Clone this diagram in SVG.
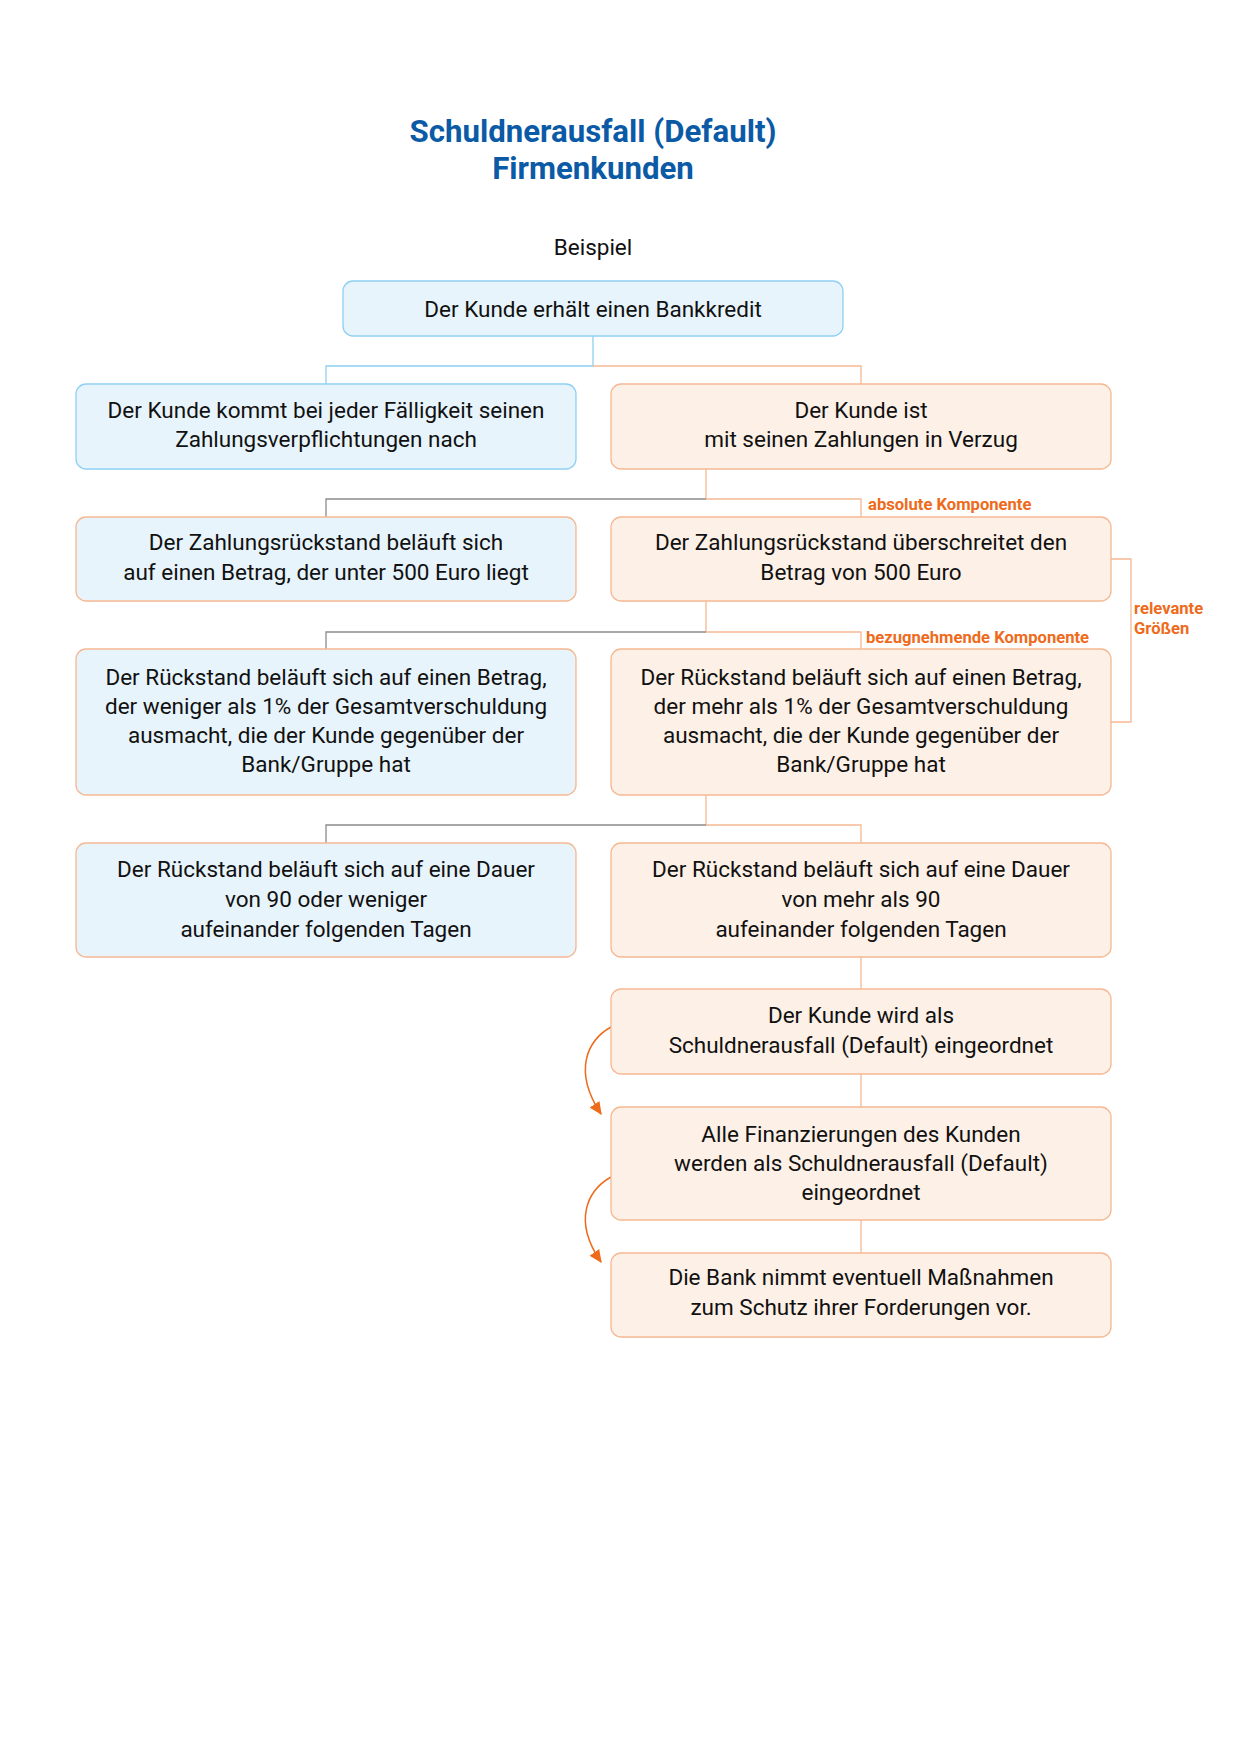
<svg xmlns="http://www.w3.org/2000/svg" width="1240" height="1754" viewBox="0 0 1240 1754">
<defs>
<style>
.bg{fill:#ffffff}
.title{font-family:Roboto,"Liberation Sans",sans-serif;font-weight:700;font-size:31.2px;fill:#0b5aa6;text-anchor:middle}
.sub{font-family:Roboto,"Liberation Sans",sans-serif;font-size:22.5px;fill:#111;text-anchor:middle}
.t{font-family:Roboto,"Liberation Sans",sans-serif;font-size:22.5px;fill:#111;text-anchor:middle}
.lbl{font-family:Roboto,"Liberation Sans",sans-serif;font-weight:700;font-size:16.6px;fill:#ee6b1c}
.blue{fill:#e8f4fc;stroke:#8ecff2;stroke-width:1.3}
.mix{fill:#e8f4fc;stroke:#f5b892;stroke-width:1.3}
.orange{fill:#fdf0e6;stroke:#f5b892;stroke-width:1.3}
.cb{fill:none;stroke:#8ecff2;stroke-width:1.3}
.co{fill:none;stroke:#f5b892;stroke-width:1.3}
.cg{fill:none;stroke:#8c8c8c;stroke-width:1.3}
.ca{fill:none;stroke:#ee6b1c;stroke-width:1.5}
</style>
<marker id="ah" viewBox="0 0 10 10" refX="9" refY="5" markerWidth="13" markerHeight="13" markerUnits="userSpaceOnUse" orient="auto">
<path d="M0,0.5 L10,5 L0,9.5 z" fill="#ee6b1c"/>
</marker>
</defs>
<rect class="bg" x="0" y="0" width="1240" height="1754"/>
<g id="title">
<text class="title" x="593" y="142">Schuldnerausfall (Default)</text>
<text class="title" x="593" y="179">Firmenkunden</text>
<text class="sub" x="593" y="255">Beispiel</text>
</g>
<g id="connectors">
<path class="cb" d="M593,336 V366 H326 V384"/>
<path class="co" d="M593,366 H861 V384"/>
<path class="co" d="M706,469 V499 H861 V517"/>
<path class="cg" d="M706,499 H326 V517"/>
<path class="co" d="M706,601 V632 H861 V649"/>
<path class="cg" d="M706,632 H326 V649"/>
<path class="co" d="M706,795 V825 H861 V843"/>
<path class="cg" d="M706,825 H326 V843"/>
<path class="co" d="M861,957 V989"/>
<path class="co" d="M861,1074 V1107"/>
<path class="co" d="M861,1220 V1253"/>
<path class="co" d="M1111,559 H1131 V722 H1111"/>
<path class="ca" d="M611,1027 C588,1040 572,1070 601,1114" marker-end="url(#ah)"/>
<path class="ca" d="M611,1177 C588,1190 572,1220 601,1262" marker-end="url(#ah)"/>
<text class="lbl" x="868" y="510">absolute Komponente</text>
<text class="lbl" x="866" y="643">bezugnehmende Komponente</text>
<text class="lbl" x="1134" y="614">relevante</text>
<text class="lbl" x="1134" y="634">Größen</text>
</g>
<g id="n1">
<rect class="blue" x="343" y="281" width="500" height="55" rx="10"/>
<text class="t" x="593" y="317">Der Kunde erhält einen Bankkredit</text>
</g>
<g id="n2l">
<rect class="blue" x="76" y="384" width="500" height="85" rx="10"/>
<text class="t" x="326" y="418">Der Kunde kommt bei jeder Fälligkeit seinen</text>
<text class="t" x="326" y="447">Zahlungsverpflichtungen nach</text>
</g>
<g id="n2r">
<rect class="orange" x="611" y="384" width="500" height="85" rx="10"/>
<text class="t" x="861" y="418">Der Kunde ist</text>
<text class="t" x="861" y="447">mit seinen Zahlungen in Verzug</text>
</g>
<g id="n3l">
<rect class="mix" x="76" y="517" width="500" height="84" rx="10"/>
<text class="t" x="326" y="550">Der Zahlungsrückstand beläuft sich</text>
<text class="t" x="326" y="580">auf einen Betrag, der unter 500 Euro liegt</text>
</g>
<g id="n3r">
<rect class="orange" x="611" y="517" width="500" height="84" rx="10"/>
<text class="t" x="861" y="550">Der Zahlungsrückstand überschreitet den</text>
<text class="t" x="861" y="580">Betrag von 500 Euro</text>
</g>
<g id="n4l">
<rect class="mix" x="76" y="649" width="500" height="146" rx="10"/>
<text class="t" x="326" y="685">Der Rückstand beläuft sich auf einen Betrag,</text>
<text class="t" x="326" y="714">der weniger als 1% der Gesamtverschuldung</text>
<text class="t" x="326" y="743">ausmacht, die der Kunde gegenüber der</text>
<text class="t" x="326" y="772">Bank/Gruppe hat</text>
</g>
<g id="n4r">
<rect class="orange" x="611" y="649" width="500" height="146" rx="10"/>
<text class="t" x="861" y="685">Der Rückstand beläuft sich auf einen Betrag,</text>
<text class="t" x="861" y="714">der mehr als 1% der Gesamtverschuldung</text>
<text class="t" x="861" y="743">ausmacht, die der Kunde gegenüber der</text>
<text class="t" x="861" y="772">Bank/Gruppe hat</text>
</g>
<g id="n5l">
<rect class="mix" x="76" y="843" width="500" height="114" rx="10"/>
<text class="t" x="326" y="877">Der Rückstand beläuft sich auf eine Dauer</text>
<text class="t" x="326" y="907">von 90 oder weniger</text>
<text class="t" x="326" y="937">aufeinander folgenden Tagen</text>
</g>
<g id="n5r">
<rect class="orange" x="611" y="843" width="500" height="114" rx="10"/>
<text class="t" x="861" y="877">Der Rückstand beläuft sich auf eine Dauer</text>
<text class="t" x="861" y="907">von mehr als 90</text>
<text class="t" x="861" y="937">aufeinander folgenden Tagen</text>
</g>
<g id="n6">
<rect class="orange" x="611" y="989" width="500" height="85" rx="10"/>
<text class="t" x="861" y="1023">Der Kunde wird als</text>
<text class="t" x="861" y="1053">Schuldnerausfall (Default) eingeordnet</text>
</g>
<g id="n7">
<rect class="orange" x="611" y="1107" width="500" height="113" rx="10"/>
<text class="t" x="861" y="1142">Alle Finanzierungen des Kunden</text>
<text class="t" x="861" y="1171">werden als Schuldnerausfall (Default)</text>
<text class="t" x="861" y="1200">eingeordnet</text>
</g>
<g id="n8">
<rect class="orange" x="611" y="1253" width="500" height="84" rx="10"/>
<text class="t" x="861" y="1285">Die Bank nimmt eventuell Maßnahmen</text>
<text class="t" x="861" y="1315">zum Schutz ihrer Forderungen vor.</text>
</g>
</svg>
